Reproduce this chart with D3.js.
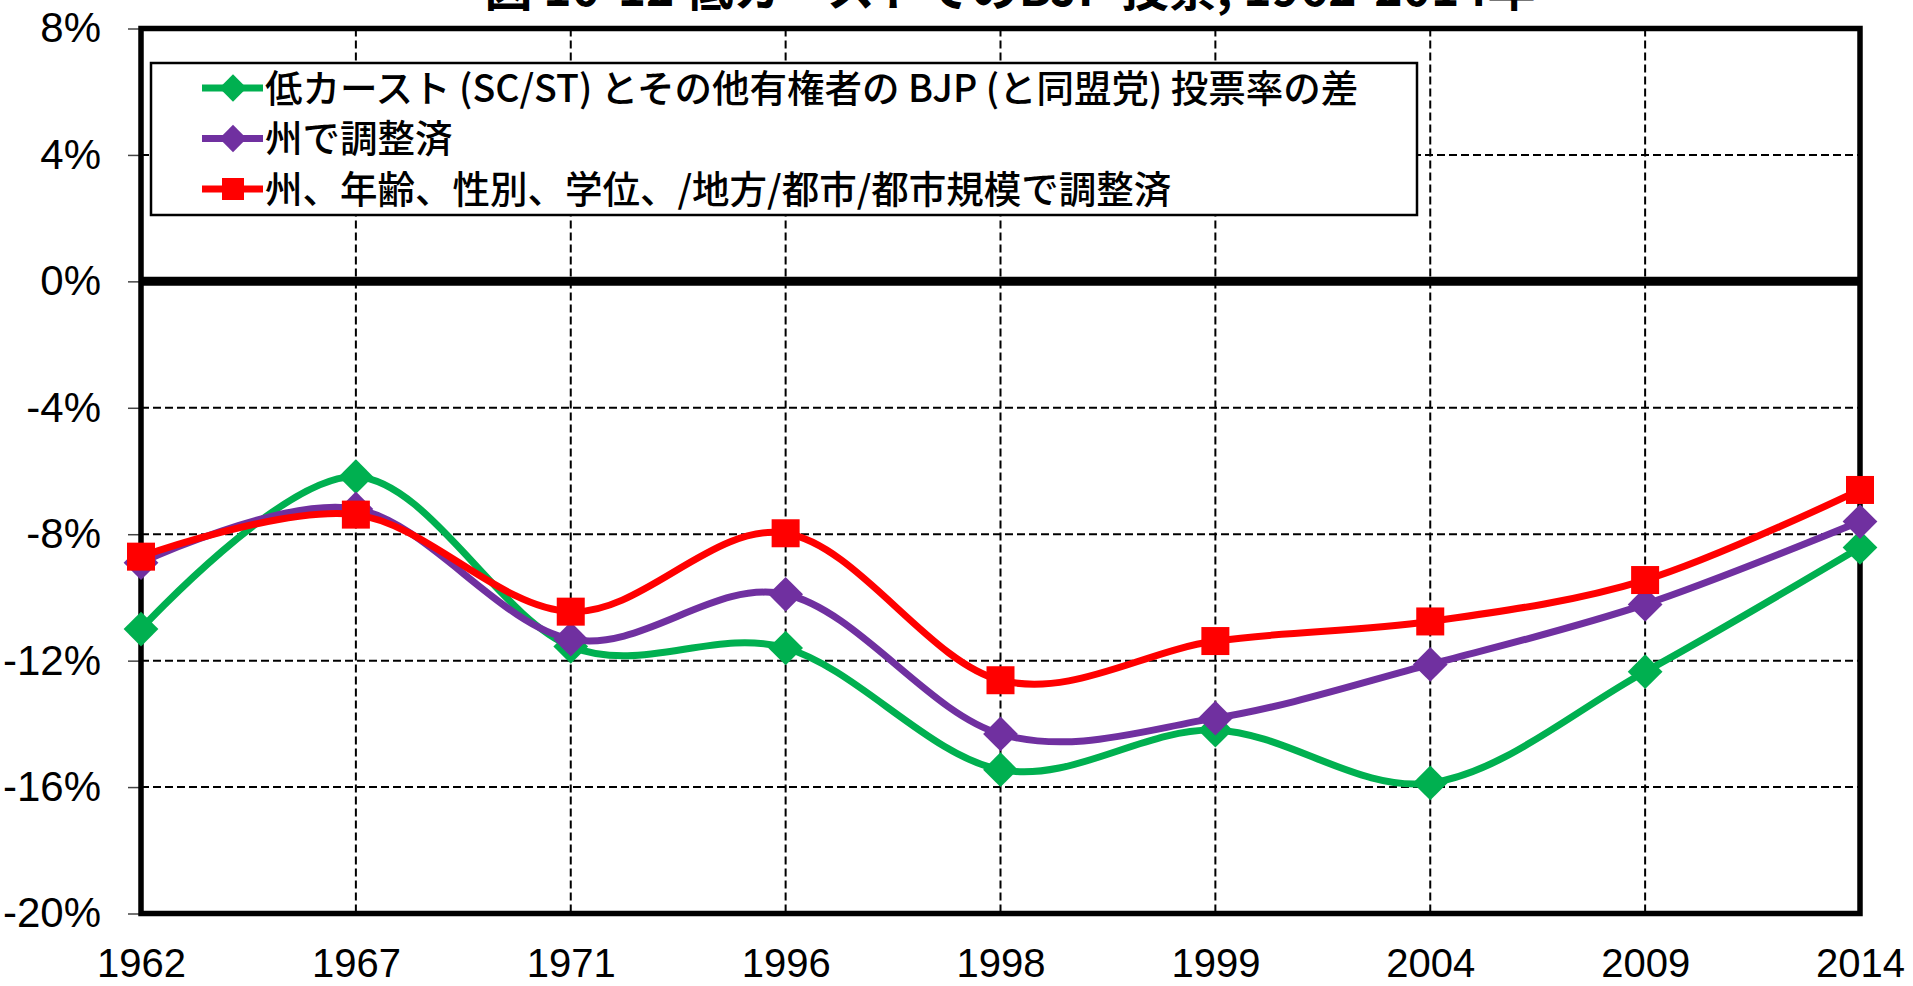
<!DOCTYPE html>
<html>
<head>
<meta charset="utf-8">
<script src="https://cdn.jsdelivr.net/npm/d3@7"></script>
<style>
    body { margin: 0; background: #fff; }
    svg { display: block; }
</style>
</head>
<body>
<svg id="chart" width="1913" height="986"></svg>
<script>
// data (percentage points)
const years = ["1962", "1967", "1971", "1996", "1998", "1999", "2004", "2009", "2014"];
const lowCasteGap = [-11.0, -6.18, -11.55, -11.6, -15.45, -14.2, -15.87, -12.35, -8.42];
const stateAdjusted = [-8.9, -7.2, -11.32, -9.9, -14.32, -13.82, -12.12, -10.22, -7.6];
const fullyAdjusted = [-8.71, -7.38, -10.45, -7.97, -12.62, -11.38, -10.76, -9.45, -6.6];
const yTicks = [-20, -16, -12, -8, -4, 0, 4, 8];
const seriesNames = [
    "低カースト (SC/ST) とその他有権者の BJP (と同盟党) 投票率の差",
    "州で調整済",
    "州、年齢、性別、学位、/地方/都市/都市規模で調整済"
];
const titleText = "図 10-12  低カーストでのBJP 投票, 1962-2014年";

const series = [
    {name: seriesNames[0], values: lowCasteGap, color: "#00B050", marker: "diamond"},
    {name: seriesNames[1], values: stateAdjusted, color: "#7030A0", marker: "diamond"},
    {name: seriesNames[2], values: fullyAdjusted, color: "#FF0000", marker: "square"}
];

const plotLeft = 141, plotRight = 1860, plotTop = 28.5, plotBottom = 913.5;
const latin = "'Liberation Sans', Arial, sans-serif";
const cjk = "'Noto Sans CJK JP', 'Noto Sans', sans-serif";

const svg = d3.select("#chart");

const x = d3.scalePoint().domain(years).range([plotLeft, plotRight]).padding(0);
const y = d3.scaleLinear().domain([-20, 8]).range([plotBottom, plotTop]);

// title, its top is off the page as in the source image
svg.append("text")
    .attr("x", 1010)
    .attr("y", 6)
    .attr("text-anchor", "middle")
    .attr("font-family", cjk)
    .attr("font-weight", "bold")
    .attr("font-size", 48)
    .text(titleText);

// grid
const grid = svg.append("g").attr("stroke", "#000").attr("stroke-width", 2).attr("stroke-dasharray", "8,4");
grid.selectAll("line.h")
    .data(yTicks.filter(d => d !== 8 && d !== -20 && d !== 0))
    .join("line")
    .attr("class", "h")
    .attr("x1", plotLeft).attr("x2", plotRight)
    .attr("y1", d => y(d)).attr("y2", d => y(d));
grid.selectAll("line.v")
    .data(years.slice(1, -1))
    .join("line")
    .attr("class", "v")
    .attr("x1", d => x(d)).attr("x2", d => x(d))
    .attr("y1", plotTop).attr("y2", plotBottom);

// axes
const yAxis = svg.append("g")
    .attr("transform", `translate(${plotLeft},0)`)
    .call(d3.axisLeft(y).tickValues(yTicks).tickFormat(d => d + "%").tickSize(13).tickPadding(27));
yAxis.select(".domain").remove();
yAxis.selectAll("line").attr("stroke", "#444").attr("stroke-width", 1.5);
yAxis.selectAll("text").attr("font-family", latin).attr("font-size", 42).attr("fill", "#000");

const xAxis = svg.append("g")
    .attr("transform", `translate(0,${plotBottom})`)
    .call(d3.axisBottom(x).tickSize(0).tickPadding(35));
xAxis.select(".domain").remove();
xAxis.selectAll("text").attr("font-family", latin).attr("font-size", 40).attr("fill", "#000");

// legend box (hides the grid behind it)
const legend = svg.append("g");
legend.append("rect")
    .attr("x", 151).attr("y", 63)
    .attr("width", 1266).attr("height", 152)
    .attr("fill", "#fff")
    .attr("stroke", "#000")
    .attr("stroke-width", 2.5);

// zero line and frame
svg.append("line")
    .attr("x1", plotLeft).attr("x2", plotRight)
    .attr("y1", y(0)).attr("y2", y(0))
    .attr("stroke", "#000").attr("stroke-width", 9);
svg.append("rect")
    .attr("x", plotLeft).attr("y", plotTop)
    .attr("width", plotRight - plotLeft).attr("height", plotBottom - plotTop)
    .attr("fill", "none")
    .attr("stroke", "#000")
    .attr("stroke-width", 5.5);

const drawMarker = function (sel, type, color, size) {
    if (type === "square") {
        sel.append("rect")
            .attr("x", -size / 2).attr("y", -size / 2)
            .attr("width", size).attr("height", size)
            .attr("fill", color);
    } else {
        const h = size * 0.62;
        sel.append("path")
            .attr("d", `M0,${-h}L${h},0L0,${h}L${-h},0Z`)
            .attr("fill", color);
    }
};

// series
const line = d3.line()
    .x((d, i) => x(years[i]))
    .y(d => y(d))
    .curve(d3.curveCardinal.tension(0));

series.forEach(s => {
    svg.append("path")
        .datum(s.values)
        .attr("d", line)
        .attr("fill", "none")
        .attr("stroke", s.color)
        .attr("stroke-width", 7)
        .attr("stroke-linejoin", "round");
    s.values.forEach((v, i) => {
        const g = svg.append("g").attr("transform", `translate(${x(years[i])},${y(v)})`);
        drawMarker(g, s.marker, s.color, 28);
    });
});

// legend rows
series.forEach((s, i) => {
    const cy = 88 + i * 50.5;
    legend.append("line")
        .attr("x1", 202).attr("x2", 263)
        .attr("y1", cy).attr("y2", cy)
        .attr("stroke", s.color).attr("stroke-width", 7);
    const g = legend.append("g").attr("transform", `translate(233,${cy})`);
    drawMarker(g, s.marker, s.color, 22);
    legend.append("text")
        .attr("x", 265).attr("y", cy)
        .attr("dy", "0.36em")
        .attr("font-family", cjk)
        .attr("font-size", 37.5)
        .attr("font-weight", 500)
        .attr("fill", "#000")
        .text(s.name);
});
</script>
</body>
</html>
